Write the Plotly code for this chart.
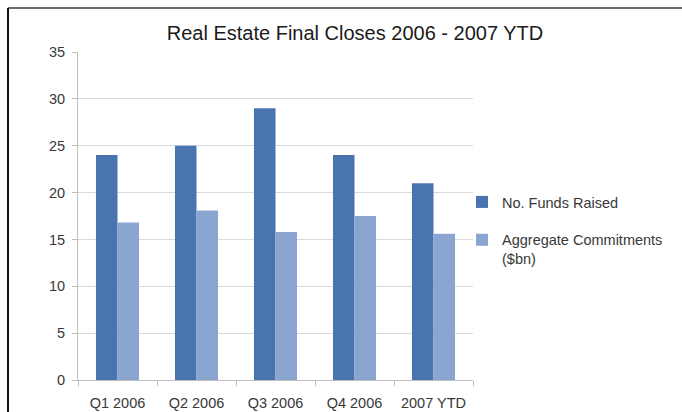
import plotly.graph_objects as go

categories = ["Q1 2006", "Q2 2006", "Q3 2006", "Q4 2006", "2007 YTD"]
funds_raised = [24, 25, 29, 24, 21]
aggregate_commitments = [16.8, 18.1, 15.8, 17.5, 15.6]
y_ticks = [0, 5, 10, 15, 20, 25, 30, 35]

W, H = 682, 412
L, R, T, B = 78, 209, 52, 32
pw, ph = W - L - R, H - T - B

def px_x(x):
    return (x - L) / pw

def px_y(y):
    return (H - B - y) / ph

font_fam = "Arial, Liberation Sans, sans-serif"
txt_col = "#383838"

fig = go.Figure()
fig.add_trace(go.Bar(name="No. Funds Raised", x=categories, y=funds_raised,
                     marker=dict(color="#4a74b0", line=dict(width=0)),
                     legendgroup="a"))
fig.add_trace(go.Bar(name="Aggregate Commitments<br>($bn)", x=categories, y=aggregate_commitments,
                     marker=dict(color="#8ba5d1", line=dict(width=0)),
                     legendgroup="b"))

fig.update_layout(
    width=W, height=H,
    margin=dict(l=L, r=R, t=T, b=B),
    paper_bgcolor="white", plot_bgcolor="white",
    barmode="group", bargap=0.455, bargroupgap=0,
    font=dict(family=font_fam, size=14.5, color=txt_col),
    title=dict(text="Real Estate Final Closes 2006 - 2007 YTD",
               font=dict(family=font_fam, size=20, color="#1a1a1a"),
               x=355 / W, xref="container", xanchor="center",
               y=1 - 33 / H, yref="container", yanchor="middle"),
    legend=dict(x=px_x(462), y=px_y(186), xanchor="left", yanchor="top",
                traceorder="grouped", tracegroupgap=16, valign="top",
                font=dict(family=font_fam, size=14.5, color=txt_col),
                bgcolor="rgba(0,0,0,0)"),
    xaxis=dict(showgrid=False, showline=True, linecolor="#bfbfbf", linewidth=1,
               ticks="outside", tickson="boundaries", ticklen=5, tickcolor="#bfbfbf",
               ticklabelstandoff=10, fixedrange=True, automargin=False),
    yaxis=dict(range=[0, 35], tickvals=y_ticks, showgrid=True, gridcolor="#d9d9d9",
               showline=True, linecolor="#bfbfbf", linewidth=1, zeroline=False,
               ticks="outside", ticklen=5, tickcolor="#bfbfbf",
               ticklabelstandoff=4, fixedrange=True, automargin=False),
    shapes=[
        dict(type="line", xref="paper", yref="paper",
             x0=px_x(8), x1=px_x(W), y0=px_y(8), y1=px_y(8),
             line=dict(color="#6e6e6e", width=2)),
        dict(type="line", xref="paper", yref="paper",
             x0=px_x(8), x1=px_x(8), y0=px_y(8), y1=px_y(H),
             line=dict(color="#111111", width=2)),
    ],
)

fig.write_html("out.html")
